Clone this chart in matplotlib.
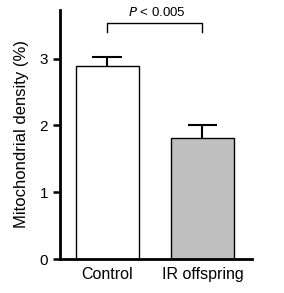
import matplotlib
matplotlib.use("Agg")
import matplotlib.pyplot as plt

groups = ['Control', 'IR offspring']
density = [2.89, 1.81]
sem = [0.14, 0.20]
colors = ['white', '#c0c0c0']
p_text = '$\\it{P}$ < 0.005'

plt.rcParams['font.family'] = ['Liberation Sans', 'DejaVu Sans']

fig = plt.figure(figsize=(2.84, 2.93), dpi=100)
ax = fig.add_axes([0.211, 0.116, 0.676, 0.85])

x = [0, 1]
ax.bar(x, density, width=0.66, color=colors, edgecolor='black', linewidth=1.0,
       yerr=[[0, 0], sem], capsize=0, error_kw=dict(elinewidth=1.5, ecolor='black'),
       zorder=2)
for xi, d, s in zip(x, density, sem):
    ax.plot([xi - 0.155, xi + 0.155], [d + s, d + s], color='black', lw=1.5,
            solid_capstyle='butt', zorder=3)

# significance bracket
yb = 3.53
ax.plot([0, 0, 1, 1], [yb - 0.13, yb, yb, yb - 0.13], color='black', lw=1.0,
        clip_on=False)
ax.text(0.52, yb + 0.07, p_text, ha='center', va='bottom', fontsize=9.5)

ax.set_xlim(-0.497, 1.52)
ax.set_ylim(0, 3.73)
ax.set_yticks([0, 1, 2, 3])
ax.set_xticks(x)
ax.set_xticklabels(groups, fontsize=11.5)
ax.tick_params(axis='y', labelsize=11, length=5, width=1.8, direction='out')
ax.tick_params(axis='x', length=0, pad=6)
ax.set_ylabel('Mitochondrial density (%)', fontsize=12, labelpad=8)

for side in ['top', 'right']:
    ax.spines[side].set_visible(False)
ax.spines['left'].set_linewidth(2)
ax.spines['bottom'].set_linewidth(2)

plt.savefig('out.png', dpi=100)
plt.close()
